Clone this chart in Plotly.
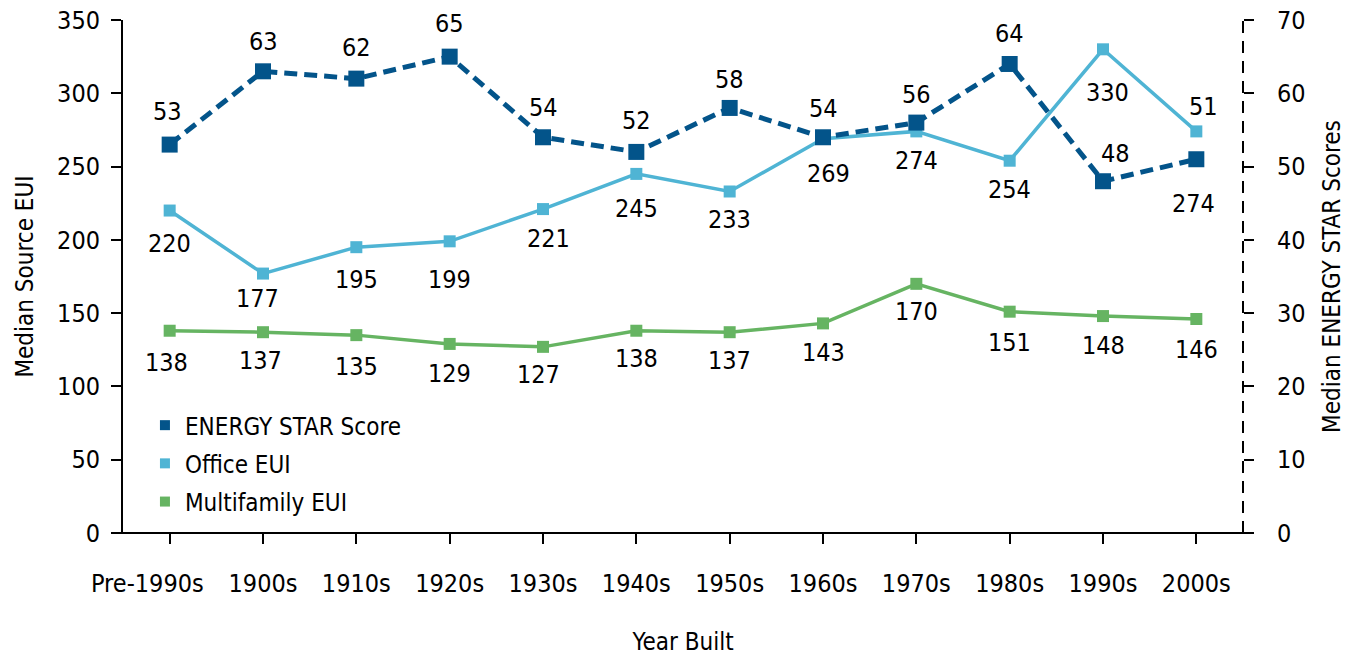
import plotly.graph_objects as go

categories = ["Pre-1990s", "1900s", "1910s", "1920s", "1930s", "1940s",
              "1950s", "1960s", "1970s", "1980s", "1990s", "2000s"]
tick_labels = ["Pre-1990s", "1900s", "1910s", "1920s", "1930s", "1940s",
               "1950s", "1960s", "1970s", "1980s", "1990s", "2000s"]
energy_star = [53, 63, 62, 65, 54, 52, 58, 54, 56, 64, 48, 51]
office_eui = [220, 177, 195, 199, 221, 245, 233, 269, 274, 254, 330, 274]
multifamily_eui = [138, 137, 135, 129, 127, 138, 137, 143, 170, 151, 148, 146]

# label offsets (px) for data labels
es_yshift = [33, 30, 31, 33, 30, 31, 28, 29, 28, 30, 28, 53]
es_xshift = [-2, 0, 0, 0, 0, 0, 0, 0, 0, 0, 12, 7]
of_yshift = [-33, -25, -32, -38, -29, -35, -28, -35, -29, -29, -43, -72]
of_xshift = [0, -6, 0, 0, 5, 0, 0, 5, 0, 0, 4, -3]
mf_yshift = [-32, -28, -31, -30, -28, -28, -28, -29, -28, -31, -29, -30]
mf_xshift = [-3, -3, 0, 0, -5, 0, 0, 0, 0, 0, 0, 0]

C_ES = "#03548A"
C_OF = "#4FB4D4"
C_MF = "#66B462"
FONT = "DejaVu Sans Condensed, Liberation Sans Narrow, DejaVu Sans, sans-serif"

fig = go.Figure()

fig.add_trace(go.Scatter(x=categories, y=multifamily_eui, mode="lines+markers",
                         line=dict(color=C_MF, width=3.5),
                         marker=dict(symbol="square", size=12, color=C_MF),
                         showlegend=False, yaxis="y"))
fig.add_trace(go.Scatter(x=categories, y=office_eui, mode="lines+markers",
                         line=dict(color=C_OF, width=3.5),
                         marker=dict(symbol="square", size=12, color=C_OF),
                         showlegend=False, yaxis="y"))
fig.add_trace(go.Scatter(x=categories, y=energy_star, mode="lines+markers",
                         line=dict(color=C_ES, width=5, dash="13px,7px"),
                         marker=dict(symbol="square", size=16, color=C_ES),
                         showlegend=False, yaxis="y2"))

# legend entries (markers only)
for name, col in [("ENERGY STAR Score", C_ES), ("Office EUI", C_OF), ("Multifamily EUI", C_MF)]:
    fig.add_trace(go.Scatter(x=[None], y=[None], mode="markers", name=name,
                             legendgroup=name,
                             marker=dict(symbol="square", size=10, color=col),
                             showlegend=True))

annotations = []
for vals, ysh, xsh, yref in [(energy_star, es_yshift, es_xshift, "y2"),
                             (office_eui, of_yshift, of_xshift, "y"),
                             (multifamily_eui, mf_yshift, mf_xshift, "y")]:
    for c, v, ys, xs in zip(categories, vals, ysh, xsh):
        annotations.append(dict(x=c, y=v, xref="x", yref=yref, text=str(v),
                                showarrow=False, yshift=ys, xshift=xs,
                                font=dict(size=25, color="black", family=FONT)))

# first category label is drawn slightly left of its tick, as in the source
annotations.append(dict(x=categories[0], y=0, xref="x", yref="paper", text=tick_labels[0],
                        showarrow=False, yanchor="middle", yshift=-50, xshift=-22,
                        font=dict(size=25, color="black", family=FONT)))

fig.update_layout(
    width=1359, height=656,
    margin=dict(l=123, r=116, t=20, b=123),
    paper_bgcolor="white", plot_bgcolor="white",
    font=dict(family=FONT, size=25, color="black"),
    annotations=annotations,
    legend=dict(x=0.0196, y=0.2533, xanchor="left", yanchor="top",
                font=dict(size=24, color="black"), tracegroupgap=4,
                bgcolor="rgba(0,0,0,0)"),
    xaxis=dict(type="category", categoryorder="array", categoryarray=categories,
               range=[-0.5, 11.5], tickmode="array", tickvals=categories,
               ticktext=[""] + tick_labels[1:],
               tickangle=0, automargin=False,
               showline=False, ticks="outside", ticklen=10, tickwidth=2, tickcolor="black",
               ticklabelstandoff=18, showgrid=False, zeroline=False,
               title=dict(text="Year Built", standoff=38, font=dict(size=24))),
    yaxis=dict(range=[0, 350], dtick=50, showline=True, linecolor="black", linewidth=2,
               ticks="outside", ticklen=10, tickwidth=2, tickcolor="black", automargin=False,
               ticklabelstandoff=6, showgrid=False, zeroline=False,
               title=dict(text="Median Source EUI", standoff=17, font=dict(size=24))),
    yaxis2=dict(range=[0, 70], dtick=10, overlaying="y", side="right", showline=False,
                ticks="outside", ticklen=10, tickwidth=2, tickcolor="black", automargin=False,
                ticklabelstandoff=18, showgrid=False, zeroline=False,
                title=dict(text="Median ENERGY STAR Scores", standoff=18, font=dict(size=24))),
    shapes=[
        dict(type="line", xref="paper", yref="paper", x0=1, x1=1, y0=0, y1=1,
             line=dict(color="black", width=2, dash="12px,8px"), layer="below"),
        dict(type="line", xref="paper", yref="paper", x0=-11 / 1120, x1=1 + 10 / 1120, y0=0, y1=0,
             line=dict(color="black", width=2), layer="below"),
    ],
)

fig.write_html("out.html", config={"displayModeBar": False},
               post_script="document.body.style.margin='0';document.body.style.overflow='hidden';")
